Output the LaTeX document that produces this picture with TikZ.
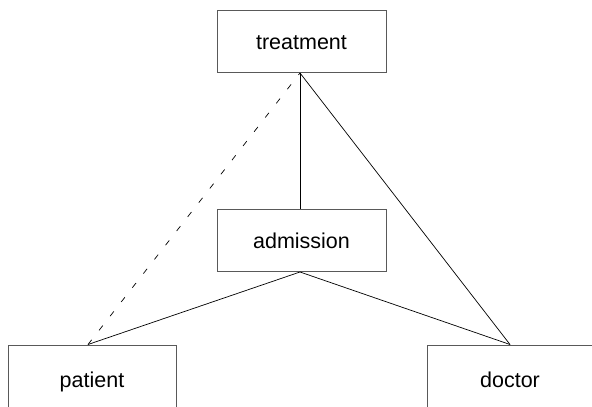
\documentclass[tikz,border=0pt]{standalone}
\usepackage{fontspec}
\setmainfont{Liberation Sans}
\begin{document}
\begin{tikzpicture}[x=1pt,y=-1pt,
  entity/.style={draw=black!65,line width=1pt,fill=white,inner sep=0pt,
    font=\fontsize{21.5}{24}\selectfont,text height=15pt,text depth=0pt},
  link/.style={draw=black,line width=0.7pt}]
\useasboundingbox (0,0) rectangle (592,407);
\node[entity,minimum width=169pt,minimum height=62pt] (treatment) at (301.5,41.5) {treatment};
\node[entity,minimum width=169pt,minimum height=62pt] (admission) at (301.5,240.5) {admission};
\node[entity,minimum width=168pt,minimum height=70pt] (patient) at (92,380) {patient};
\node[entity,minimum width=166pt,minimum height=70pt] (doctor) at (510,380) {doctor};
\coordinate (tb) at ([xshift=-1.5pt]treatment.south);
\coordinate (at) at ([xshift=-1.5pt]admission.north);
\coordinate (ab) at ([xshift=-1.5pt]admission.south);
\coordinate (pt) at ([xshift=-4pt]patient.north);
\draw[link] (tb) -- (at);
\draw[link] (ab) -- (pt);
\draw[link] (ab) -- (doctor.north);
\draw[link] (tb) -- (doctor.north);
\draw[link,dash pattern=on 6pt off 12pt] (pt) -- (tb);
\end{tikzpicture}
\end{document}
